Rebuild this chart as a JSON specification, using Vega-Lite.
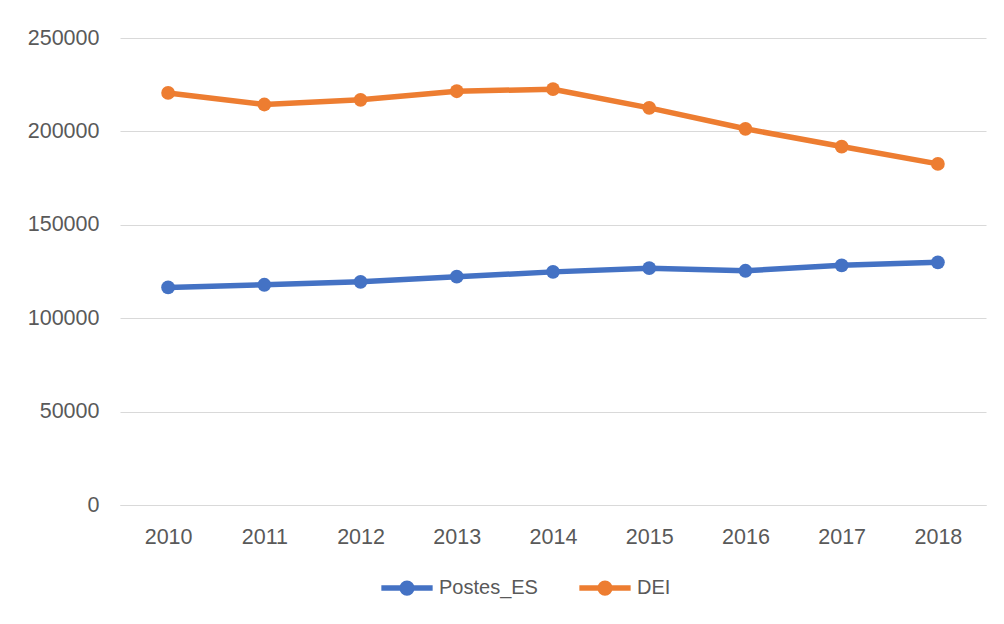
{
  "$schema": "https://vega.github.io/schema/vega-lite/v6.json",
  "width": 866,
  "height": 467,
  "autosize": {"type": "none"},
  "padding": {"left": 120, "top": 38, "right": 18, "bottom": 119},
  "background": "white",
  "config": {
    "view": {"stroke": null},
    "font": "Liberation Sans"
  },
  "data": {
    "values": [
      {"year": "2010", "series": "Postes_ES", "value": 116500},
      {"year": "2011", "series": "Postes_ES", "value": 117900},
      {"year": "2012", "series": "Postes_ES", "value": 119500},
      {"year": "2013", "series": "Postes_ES", "value": 122200},
      {"year": "2014", "series": "Postes_ES", "value": 124800},
      {"year": "2015", "series": "Postes_ES", "value": 126800},
      {"year": "2016", "series": "Postes_ES", "value": 125400},
      {"year": "2017", "series": "Postes_ES", "value": 128300},
      {"year": "2018", "series": "Postes_ES", "value": 129900},
      {"year": "2010", "series": "DEI", "value": 220600},
      {"year": "2011", "series": "DEI", "value": 214400},
      {"year": "2012", "series": "DEI", "value": 216900},
      {"year": "2013", "series": "DEI", "value": 221500},
      {"year": "2014", "series": "DEI", "value": 222600},
      {"year": "2015", "series": "DEI", "value": 212600},
      {"year": "2016", "series": "DEI", "value": 201400},
      {"year": "2017", "series": "DEI", "value": 191900},
      {"year": "2018", "series": "DEI", "value": 182600}
    ]
  },
  "mark": {
    "type": "line",
    "strokeWidth": 5.5,
    "strokeCap": "round",
    "strokeJoin": "round",
    "point": {"filled": true, "size": 190, "opacity": 1}
  },
  "encoding": {
    "x": {
      "field": "year",
      "type": "ordinal",
      "scale": {"padding": 0.5},
      "axis": {
        "title": null,
        "labelAngle": 0,
        "labelFontSize": 21.5,
        "labelColor": "#595959",
        "labelPadding": 21,
        "ticks": false,
        "domainColor": "#d9d9d9",
        "domainWidth": 1,
        "grid": false
      }
    },
    "y": {
      "field": "value",
      "type": "quantitative",
      "scale": {"domain": [0, 250000], "nice": false},
      "axis": {
        "title": null,
        "values": [0, 50000, 100000, 150000, 200000, 250000],
        "format": "d",
        "labelFontSize": 21.5,
        "labelColor": "#595959",
        "labelPadding": 21,
        "ticks": false,
        "domain": false,
        "grid": true,
        "gridColor": "#d9d9d9",
        "gridWidth": 1
      }
    },
    "color": {
      "field": "series",
      "type": "nominal",
      "sort": ["Postes_ES", "DEI"],
      "scale": {"domain": ["Postes_ES", "DEI"], "range": ["#4472C4", "#ED7D31"]},
      "legend": {
        "title": null,
        "orient": "none",
        "legendX": 257,
        "legendY": 520,
        "direction": "horizontal",
        "symbolType": "M-0.95,0L0.95,0M-0.18,0A0.18,0.18,0,1,1,0.18,0A0.18,0.18,0,1,1,-0.18,0Z",
        "symbolSize": 2916,
        "symbolStrokeWidth": 5.5,
        "labelFontSize": 20,
        "labelColor": "#595959",
        "labelOffset": 2,
        "columnPadding": 30,
        "encode": {
          "symbols": {
            "update": {
              "fill": {"scale": "color", "field": "value"},
              "stroke": {"scale": "color", "field": "value"},
              "opacity": {"value": 1}
            }
          }
        }
      }
    }
  }
}
